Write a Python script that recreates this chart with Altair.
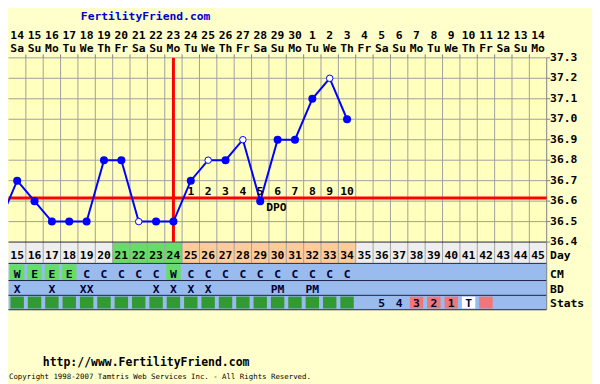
import altair as alt
import pandas as pd

# ---------------- data ----------------
dates = [14, 15, 16, 17, 18, 19, 20, 21, 22, 23, 24, 25, 26, 27, 28, 29, 30,
         1, 2, 3, 4, 5, 6, 7, 8, 9, 10, 11, 12, 13, 14]
weekdays = ["Sa", "Su", "Mo", "Tu", "We", "Th", "Fr", "Sa", "Su", "Mo", "Tu",
            "We", "Th", "Fr", "Sa", "Su", "Mo", "Tu", "We", "Th", "Fr", "Sa",
            "Su", "Mo", "Tu", "We", "Th", "Fr", "Sa", "Su", "Mo"]
cycle_days = list(range(15, 46))
day_phase = ["plain"] * 6 + ["fertile"] * 4 + ["luteal"] * 10 + ["plain"] * 11

temp_days = list(range(14, 35))
temps = [36.5, 36.7, 36.6, 36.5, 36.5, 36.5, 36.8, 36.8, 36.5, 36.5, 36.5,
         36.7, 36.8, 36.8, 36.9, 36.6, 36.9, 36.9, 37.1, 37.2, 37.0]
open_days = [22, 26, 28, 33]
coverline = [36.615]
ovulation_day = [24]
dpo_days = list(range(25, 35))
dpo_labels = [str(k) for k in range(1, 11)]
dpo_word_day = [29]

cm_days = list(range(15, 35))
cm_codes = ["W", "E", "E", "E", "C", "C", "C", "C", "C", "W",
            "C", "C", "C", "C", "C", "C", "C", "C", "C", "C"]
bd_days = [15, 17, 19, 23, 24, 25, 26, 30, 32]
bd_codes = ["X", "X", "XX", "X", "X", "X", "X", "PM", "PM"]
stats_kind = ["ok"] * 20 + ["none"] + ["none", "none", "pink", "pink", "pink", "white", "pink"] + ["none"] * 3
stats_text = [""] * 21 + ["5", "4", "3", "2", "1", "T", ""] + [""] * 3

temp_ticks = [36.4, 36.5, 36.6, 36.7, 36.8, 36.9, 37.0, 37.1, 37.2, 37.3]
row_names = ["Day", "CM", "BD", "Stats"]

title_text = "FertilityFriend.com"
url_text = "http://www.FertilityFriend.com"
copyright_text = "Copyright 1998-2007 Tamtris Web Services Inc. - All Rights Reserved."

# ---------------- layout ----------------
FIRST = 15
NCOL = len(cycle_days)
FONT = "DejaVu Sans Mono"
COLW = 17.6
X_LEFT = 0.5
X_RIGHT = X_LEFT + NCOL * COLW

XS = alt.Scale(domain=[-0.5, NCOL - 0.5], range=[X_LEFT, X_RIGHT], nice=False, zero=False)
YS = alt.Scale(domain=[36.4, 37.3], range=[234.7, 47.95], nice=False, zero=False)

PLOT_TOP = 47.95
DAY_ROW = (235.2, 255.8)
BAND = (256.3, 303.3)
CM_ROW = (257.3, 273.2)
STATS_ROW = (290.0, 302.0)
ROW_LINES = [234.7, 256.3, 273.7, 288.7, 303.3]
ROW_BASE = [252.0, 271.5, 286.0, 300.5]
LABEL_X = X_RIGHT + 3.4


def X(f="i"):
    return alt.X(f"{f}:Q", scale=XS, axis=None)


def Y(f="t"):
    return alt.Y(f"{f}:Q", scale=YS, axis=None)


def txt(**kw):
    d = dict(font=FONT, fontWeight="bold", fontSize=11.5, color="black")
    d.update(kw)
    return d


idx = f"datum.cday - {FIRST}"

cols = pd.DataFrame({"cday": cycle_days, "date": dates, "wd": weekdays,
                     "phase": day_phase, "skind": stats_kind, "stext": stats_text})
span = pd.DataFrame({"l": [-0.5], "r": [NCOL - 0.5]})
ticks_df = pd.DataFrame({"t": temp_ticks, "label": [f"{v:.1f}" for v in temp_ticks]})
tdf = pd.DataFrame({"cday": temp_days, "t": temps})
cm_df = pd.DataFrame({"cday": cm_days, "code": cm_codes})
bd_df = pd.DataFrame({"cday": bd_days, "code": bd_codes})
dpo_df = pd.DataFrame({"cday": dpo_days, "label": dpo_labels})

base_cols = alt.Chart(cols).transform_calculate(
    i=idx, l=f"{idx} - 0.5", r=f"{idx} + 0.5")

layers = []

# plot background
layers.append(alt.Chart(pd.DataFrame({"l": [-0.5], "r": [NCOL - 0.5], "t0": [36.4], "t1": [37.3]}))
              .mark_rect(color="#FFFFBE").encode(x=X("l"), x2="r", y=Y("t0"), y2="t1"))

# horizontal grid
layers.append(alt.Chart(ticks_df).transform_filter("datum.t > 36.45")
              .transform_calculate(l="-0.5", r=str(NCOL - 0.5))
              .mark_rule(color="#A0A0A0", strokeWidth=1)
              .encode(x=X("l"), x2="r", y=Y("t")))

# Day row cells
phase_colors = {"plain": "#EEEEEE", "fertile": "#66DD66", "luteal": "#FFCC99"}
for ph, colr in phase_colors.items():
    layers.append(base_cols.transform_filter(f"datum.phase == '{ph}'")
                  .mark_rect(color=colr)
                  .encode(x=X("l"), x2="r", y=alt.value(DAY_ROW[0]), y2=alt.value(DAY_ROW[1])))

# vertical grid (through plot and Day row)
layers.append(base_cols.transform_filter(f"datum.cday < {cycle_days[-1]}")
              .mark_rule(color="#A0A0A0", strokeWidth=1)
              .encode(x=X("r"), y=alt.value(PLOT_TOP), y2=alt.value(DAY_ROW[1])))
# top axis tick marks
layers.append(base_cols.transform_filter(f"datum.cday < {cycle_days[-1]}")
              .mark_rule(color="#808080", strokeWidth=1)
              .encode(x=X("r"), y=alt.value(PLOT_TOP - 3.5), y2=alt.value(PLOT_TOP)))

# blue band for CM / BD / Stats
layers.append(alt.Chart(span).mark_rect(color="#99BBEE")
              .encode(x=X("l"), x2="r", y=alt.value(BAND[0]), y2=alt.value(BAND[1])))

# CM green cells
layers.append(alt.Chart(cm_df).transform_calculate(i=idx, l=f"{idx} - 0.5", r=f"{idx} + 0.5")
              .transform_filter("datum.code != 'C'")
              .mark_rect(color="#66DD66", xOffset=1.5, x2Offset=-1.5)
              .encode(x=X("l"), x2="r", y=alt.value(CM_ROW[0]), y2=alt.value(CM_ROW[1])))

# Stats squares
stat_colors = {"ok": "#339933", "pink": "#EE7777", "white": "#FFFFFF"}
for k, colr in stat_colors.items():
    layers.append(base_cols.transform_filter(f"datum.skind == '{k}'")
                  .mark_rect(color=colr, xOffset=2, x2Offset=-2)
                  .encode(x=X("l"), x2="r", y=alt.value(STATS_ROW[0]), y2=alt.value(STATS_ROW[1])))

# table row lines
for yv in ROW_LINES:
    layers.append(alt.Chart(span).mark_rule(color="#202040", strokeWidth=1)
                  .encode(x=X("l"), x2="r", y=alt.value(yv)))

# right axis line and ticks
layers.append(alt.Chart(span).mark_rule(color="#808080", strokeWidth=1)
              .encode(x=X("r"), y=alt.value(PLOT_TOP), y2=alt.value(BAND[1])))
layers.append(alt.Chart(ticks_df).mark_rule(color="#808080", strokeWidth=1)
              .encode(x=alt.value(X_RIGHT), x2=alt.value(X_RIGHT + 3.5), y=Y("t")))
layers.append(alt.Chart(ticks_df).mark_text(**txt(align="left", baseline="middle"))
              .encode(x=alt.value(LABEL_X), y=Y("t"), text="label:N"))

# row names
for name, yb in zip(row_names, ROW_BASE):
    layers.append(alt.Chart(pd.DataFrame({"name": [name]}))
                  .mark_text(**txt(align="left", baseline="alphabetic"))
                  .encode(x=alt.value(LABEL_X), y=alt.value(yb), text="name:N"))

# red lines
layers.append(alt.Chart(pd.DataFrame({"l": [-0.5], "r": [NCOL - 0.5], "t": coverline}))
              .mark_rule(color="#FF0000", strokeWidth=3)
              .encode(x=X("l"), x2="r", y=Y("t")))
layers.append(alt.Chart(pd.DataFrame({"cday": ovulation_day, "t0": [36.4], "t1": [37.3]}))
              .transform_calculate(i=idx)
              .mark_rule(color="#FF0000", strokeWidth=3)
              .encode(x=X("i"), y=Y("t0"), y2="t1"))

# temperature line and points
tbase = alt.Chart(tdf).transform_calculate(i=idx)
layers.append(tbase.mark_line(color="#0000FF", strokeWidth=2).encode(x=X("i"), y=Y("t")))
open_expr = " || ".join(f"datum.cday == {d}" for d in open_days)
layers.append(tbase.transform_filter(f"datum.cday >= {FIRST} && !({open_expr})")
              .mark_circle(size=66, color="#0000FF", opacity=1)
              .encode(x=X("i"), y=Y("t")))
layers.append(tbase.transform_filter(open_expr)
              .mark_point(shape="circle", size=44, fill="#FFFFFF", fillOpacity=1,
                          stroke="#0000FF", strokeWidth=1, opacity=1)
              .encode(x=X("i"), y=Y("t")))

# DPO labels
layers.append(alt.Chart(dpo_df).transform_calculate(i=idx)
              .mark_text(**txt(align="center", baseline="alphabetic"))
              .encode(x=X("i"), y=alt.value(187.0), text="label:N"))
layers.append(alt.Chart(pd.DataFrame({"cday": dpo_word_day, "w": ["DPO"]})).transform_calculate(i=idx)
              .mark_text(**txt(align="left", baseline="alphabetic", dx=6))
              .encode(x=X("i"), y=alt.value(203.7), text="w:N"))

# header rows
layers.append(base_cols.mark_text(**txt(align="center", baseline="alphabetic"))
              .encode(x=X("i"), y=alt.value(29.0), text="date:N"))
layers.append(base_cols.mark_text(**txt(align="center", baseline="alphabetic"))
              .encode(x=X("i"), y=alt.value(42.0), text="wd:N"))

# table texts
layers.append(base_cols.mark_text(**txt(align="center", baseline="alphabetic"))
              .encode(x=X("i"), y=alt.value(ROW_BASE[0]), text="cday:N"))
layers.append(alt.Chart(cm_df).transform_calculate(i=idx)
              .mark_text(**txt(align="center", baseline="alphabetic", color="#000033"))
              .encode(x=X("i"), y=alt.value(ROW_BASE[1]), text="code:N"))
layers.append(alt.Chart(bd_df).transform_calculate(i=idx)
              .mark_text(**txt(align="center", baseline="alphabetic", color="#000033"))
              .encode(x=X("i"), y=alt.value(ROW_BASE[2]), text="code:N"))
layers.append(base_cols.transform_filter("datum.stext != ''")
              .mark_text(**txt(align="center", baseline="alphabetic", color="#000033"))
              .encode(x=X("i"), y=alt.value(ROW_BASE[3]), text="stext:N"))

# title and footer
layers.append(alt.Chart(pd.DataFrame({"s": [title_text]}))
              .mark_text(**txt(align="center", baseline="alphabetic", color="#0000CC"))
              .encode(x=alt.value(139.5), y=alt.value(9.5), text="s:N"))
layers.append(alt.Chart(pd.DataFrame({"s": [url_text]}))
              .mark_text(**txt(align="left", baseline="alphabetic", fontSize=11.6))
              .encode(x=alt.value(35.3), y=alt.value(360.5), text="s:N"))
layers.append(alt.Chart(pd.DataFrame({"s": [copyright_text]}))
              .mark_text(font=FONT, fontSize=7.5, fontWeight="normal", color="black",
                         align="left", baseline="alphabetic")
              .encode(x=alt.value(1.0), y=alt.value(373.5), text="s:N"))

chart = (alt.layer(*layers)
         .properties(width=592, height=376, padding=0,
                     autosize=alt.AutoSizeParams(type="none"),
                     background="#FFFFCC")
         .configure_view(stroke=None)
         .configure_axis(disable=True))

chart.save("out.html", embed_options={"renderer": "svg", "actions": False})
